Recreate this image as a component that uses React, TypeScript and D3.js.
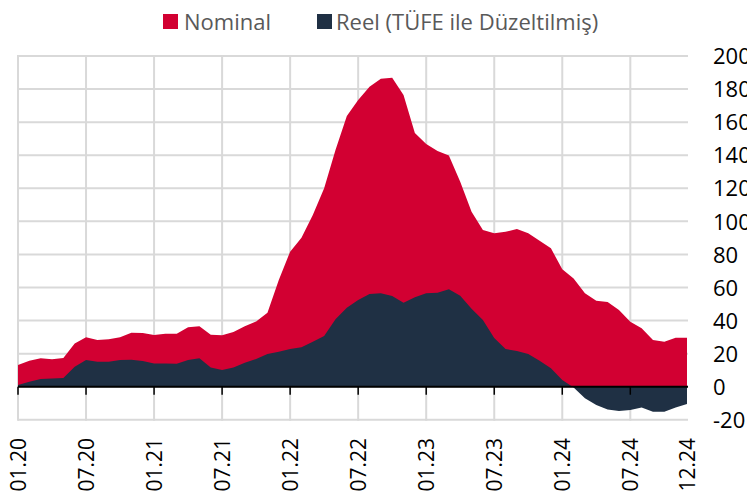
import React from "react";
import * as d3 from "d3";

// Monthly values, 01.2020 – 12.2024 (%, yoy)
const nominal = [
  13.1, 15.7, 17.2, 16.6, 17.4, 26.2, 29.9, 28.2, 28.7, 29.9, 32.7, 32.5,
  31.3, 32.1, 32.1, 35.9, 36.5, 31.5, 31.1, 33.1, 36.5, 39.5, 44.8, 64.5,
  81.7, 90.1, 103.8, 120.0, 143.2, 163.7, 173.4, 181.4, 186.3, 186.9, 176.4, 153.5,
  146.8, 142.5, 139.8, 124.0, 105.8, 94.8, 92.8, 93.7, 95.4, 92.8, 88.3, 83.7,
  71.0, 65.5, 56.5, 52.0, 51.2, 46.4, 39.3, 35.3, 28.2, 27.2, 29.6, 29.6,
];
const real = [
  1.0, 3.0, 4.6, 5.0, 5.3, 12.1, 16.1, 15.1, 15.1, 16.1, 16.3, 15.5,
  14.1, 14.1, 13.9, 16.1, 17.2, 11.7, 10.1, 11.7, 14.5, 16.8, 19.8, 21.2,
  22.8, 23.8, 27.2, 30.7, 40.8, 47.8, 52.4, 56.1, 56.5, 54.9, 50.8, 54.1,
  56.5, 56.9, 59.0, 55.0, 47.1, 40.3, 29.5, 22.8, 21.6, 19.8, 15.7, 11.1,
  4.1, -0.4, -7.0, -11.1, -13.7, -14.7, -14.1, -12.5, -15.1, -15.1, -12.5, -10.4,
];
const tickLabels = [
  "01.20", "07.20", "01.21", "07.21", "01.22", "07.22",
  "01.23", "07.23", "01.24", "07.24", "12.24",
];
const yTicks = [-20, 0, 20, 40, 60, 80, 100, 120, 140, 160, 180, 200];
const seriesNames = ["Nominal", "Reel (TÜFE ile Düzeltilmiş)"];
const seriesColors = ["#D20032", "#1F3044"];

const FONT = "'Open Sans', 'Noto Sans', sans-serif";

function labelIndex(lbl: string) {
  const [mm, yy] = lbl.split(".").map(Number);
  return (yy - 20) * 12 + (mm - 1);
}

export default function App() {
  const W = 747;
  const H = 499;
  const x = d3.scaleLinear().domain([0, nominal.length - 1]).range([18, 687]);
  const y = d3.scaleLinear().domain([-20, 200]).range([419.8, 56]);

  const area = (vals: number[]) =>
    d3
      .area<number>()
      .x((_, i) => x(i))
      .y0(y(0))
      .y1((d) => y(d))(vals) || "";

  const tickIdx = tickLabels.map(labelIndex);
  const gridIdx = tickIdx.filter((i) => i % 6 === 0);

  return (
    <svg
      width={W}
      height={H}
      style={{ position: "absolute", left: 0, top: 0, background: "#fff" }}
      fontFamily={FONT}
    >
      {/* horizontal gridlines */}
      {yTicks.map((t) => (
        <line
          key={"h" + t}
          x1={x(0)}
          x2={x(nominal.length - 1) + 1}
          y1={y(t)}
          y2={y(t)}
          stroke="#D9D9D9"
          strokeWidth={2}
        />
      ))}
      {/* vertical gridlines */}
      {gridIdx.map((i) => (
        <line
          key={"v" + i}
          x1={x(i)}
          x2={x(i)}
          y1={y(200) - 1}
          y2={y(-20) + 1}
          stroke="#D9D9D9"
          strokeWidth={2}
        />
      ))}
      {/* areas */}
      <path d={area(nominal)} fill={seriesColors[0]} />
      <path d={area(real)} fill={seriesColors[1]} />
      {/* zero axis */}
      <line
        x1={x(0)}
        x2={x(nominal.length - 1) + 1}
        y1={y(0)}
        y2={y(0)}
        stroke="#000"
        strokeWidth={2}
      />
      {gridIdx.map((i) => (
        <line
          key={"t" + i}
          x1={x(i)}
          x2={x(i)}
          y1={y(0)}
          y2={y(0) + 8}
          stroke="#000"
          strokeWidth={1.5}
        />
      ))}
      {/* y labels */}
      {yTicks.map((t) => (
        <text
          key={"yl" + t}
          x={713}
          y={y(t)}
          dy="0.37em"
          fontSize={22}
          fill="#000"
        >
          {t}
        </text>
      ))}
      {/* x labels */}
      {tickLabels.map((lbl, k) => (
        <text
          key={"xl" + lbl}
          transform={`translate(${x(tickIdx[k])},438) rotate(-90)`}
          textAnchor="end"
          dy="0.357em"
          fontSize={21}
          fill="#000"
        >
          {lbl}
        </text>
      ))}
      {/* legend */}
      <rect x={163} y={14} width={15} height={15} fill={seriesColors[0]} />
      <text x={184} y={29.5} fontSize={22} fill="#595959">
        {seriesNames[0]}
      </text>
      <rect x={317} y={14} width={15} height={15} fill={seriesColors[1]} />
      <text x={336} y={29.5} fontSize={22} fill="#595959">
        {seriesNames[1]}
      </text>
    </svg>
  );
}
